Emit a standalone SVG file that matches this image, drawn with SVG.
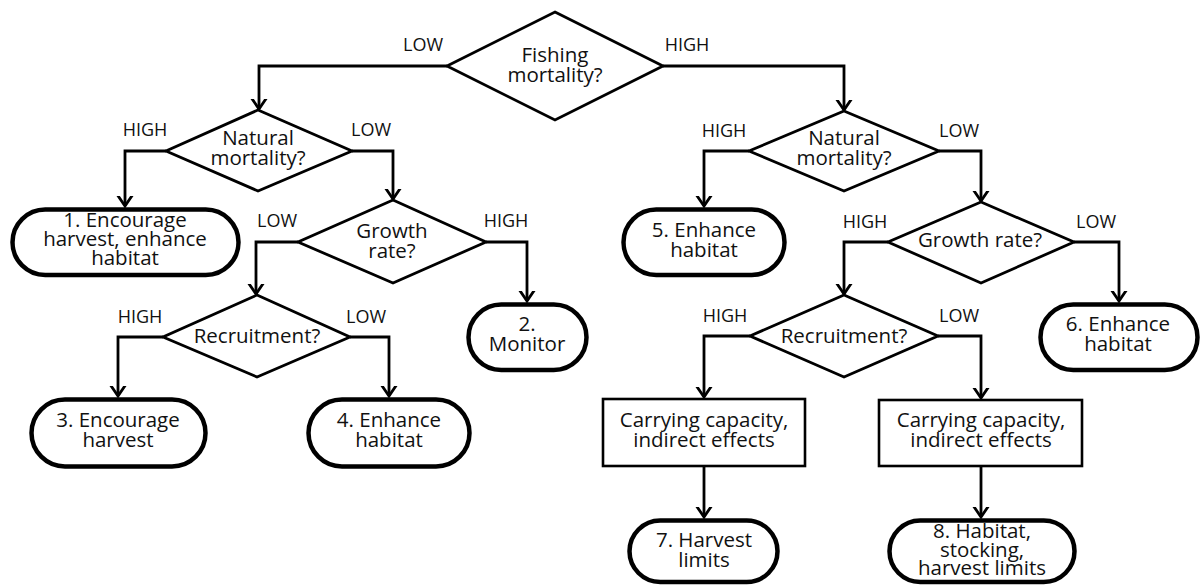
<svg xmlns="http://www.w3.org/2000/svg" width="1201" height="586" viewBox="0 0 1201 586">
<style>
text{font-family:"Open Sans","Noto Sans",sans-serif;fill:#111;text-anchor:middle}
.t{font-size:20.5px}
.l{font-size:18px}
.dia{fill:#fff;stroke:#000;stroke-width:2.8;stroke-linejoin:miter}
.term{fill:#fff;stroke:#000;stroke-width:4.5}
.box{fill:#fff;stroke:#000;stroke-width:2.6}
.c{fill:none;stroke:#000;stroke-width:2.8;marker-end:url(#ah)}
</style>
<defs>
<marker id="ah" markerUnits="userSpaceOnUse" viewBox="-10 -10 20 20" refX="0" refY="0" markerWidth="20" markerHeight="20" orient="auto">
<path d="M-11,-7.5 L0,0 L-11,7.5" fill="none" stroke="#000" stroke-width="2.8"/>
</marker>
</defs>
<rect width="1201" height="586" fill="#fff"/>
<g id="connectors">
<polyline class="c" points="447,66 259,66 259,109"/>
<polyline class="c" points="663,66 844,66 844,110"/>
<polyline class="c" points="166,151 125,151 125,206"/>
<polyline class="c" points="352,151 393,151 393,199"/>
<polyline class="c" points="298,242 256,242 256,294"/>
<polyline class="c" points="486,242 527,242 527,301"/>
<polyline class="c" points="163,337 118,337 118,396"/>
<polyline class="c" points="350,337 389,337 389,396"/>
<polyline class="c" points="749,151 704,151 704,206"/>
<polyline class="c" points="939,151 981,151 981,201"/>
<polyline class="c" points="888,242 844,242 844,294"/>
<polyline class="c" points="1074,242 1119,242 1119,301"/>
<polyline class="c" points="750,336 704,336 704,397"/>
<polyline class="c" points="938,336 981,336 981,398"/>
<polyline class="c" points="704,467 704,517"/>
<polyline class="c" points="981,467 981,517"/>
</g>
<g id="labels">
<text class="l" x="423" y="51">LOW</text>
<text class="l" x="687" y="51">HIGH</text>
<text class="l" x="145" y="136">HIGH</text>
<text class="l" x="371" y="136">LOW</text>
<text class="l" x="277" y="227">LOW</text>
<text class="l" x="506" y="227">HIGH</text>
<text class="l" x="140" y="323">HIGH</text>
<text class="l" x="366" y="323">LOW</text>
<text class="l" x="724" y="137">HIGH</text>
<text class="l" x="959" y="137">LOW</text>
<text class="l" x="865" y="228">HIGH</text>
<text class="l" x="1096" y="228">LOW</text>
<text class="l" x="725" y="322">HIGH</text>
<text class="l" x="959" y="322">LOW</text>
</g>
<g id="fishing">
<polygon class="dia" points="555,12 663,66 555,120 447,66"/>
<text class="t"><tspan x="555" y="62">Fishing</tspan><tspan x="555" y="82">mortality?</tspan></text>
</g>
<g id="natural-left">
<polygon class="dia" points="258,110 352,151 258,191 166,151"/>
<text class="t"><tspan x="258" y="145">Natural</tspan><tspan x="258" y="165">mortality?</tspan></text>
</g>
<g id="growth-left">
<polygon class="dia" points="393,200 486,242 393,283 298,242"/>
<text class="t"><tspan x="392" y="238">Growth</tspan><tspan x="392" y="258">rate?</tspan></text>
</g>
<g id="recruit-left">
<polygon class="dia" points="257,295 350,337 257,377 163,337"/>
<text class="t" x="257" y="343">Recruitment?</text>
</g>
<g id="t1">
<rect class="term" x="12.5" y="209.5" width="226" height="65.5" rx="32.75"/>
<text class="t"><tspan x="125" y="227">1. Encourage</tspan><tspan x="125" y="246">harvest, enhance</tspan><tspan x="125" y="265">habitat</tspan></text>
</g>
<g id="t2">
<rect class="term" x="468.5" y="304.5" width="118" height="65.5" rx="32.75"/>
<text class="t"><tspan x="527" y="331">2.</tspan><tspan x="527" y="351">Monitor</tspan></text>
</g>
<g id="t3">
<rect class="term" x="31.5" y="399.5" width="174" height="67" rx="33.5"/>
<text class="t"><tspan x="118" y="427">3. Encourage</tspan><tspan x="118" y="447">harvest</tspan></text>
</g>
<g id="t4">
<rect class="term" x="308.5" y="399.5" width="161" height="67" rx="33.5"/>
<text class="t"><tspan x="389" y="427">4. Enhance</tspan><tspan x="389" y="447">habitat</tspan></text>
</g>
<g id="natural-right">
<polygon class="dia" points="844,111 939,151 844,191 749,151"/>
<text class="t"><tspan x="844" y="145">Natural</tspan><tspan x="844" y="165">mortality?</tspan></text>
</g>
<g id="t5">
<rect class="term" x="623.5" y="209.5" width="161" height="65.5" rx="32.75"/>
<text class="t"><tspan x="704" y="237">5. Enhance</tspan><tspan x="704" y="257">habitat</tspan></text>
</g>
<g id="growth-right">
<polygon class="dia" points="981,202 1074,242 981,283 888,242"/>
<text class="t" x="980" y="247">Growth rate?</text>
</g>
<g id="t6">
<rect class="term" x="1040.5" y="304.5" width="157" height="65.5" rx="32.75"/>
<text class="t"><tspan x="1118" y="331">6. Enhance</tspan><tspan x="1118" y="351">habitat</tspan></text>
</g>
<g id="recruit-right">
<polygon class="dia" points="844,295 938,336 844,377 750,336"/>
<text class="t" x="844" y="343">Recruitment?</text>
</g>
<g id="r1">
<rect class="box" x="603" y="399" width="202" height="67"/>
<text class="t"><tspan x="704" y="427">Carrying capacity,</tspan><tspan x="704" y="447">indirect effects</tspan></text>
</g>
<g id="r2">
<rect class="box" x="879" y="400" width="203" height="66"/>
<text class="t"><tspan x="981" y="427">Carrying capacity,</tspan><tspan x="981" y="447">indirect effects</tspan></text>
</g>
<g id="t7">
<rect class="term" x="629.5" y="520.5" width="148" height="61.5" rx="30.75"/>
<text class="t"><tspan x="704" y="547">7. Harvest</tspan><tspan x="704" y="567">limits</tspan></text>
</g>
<g id="t8">
<rect class="term" x="889.5" y="520.5" width="185" height="61.5" rx="30.75"/>
<text class="t"><tspan x="982" y="538">8. Habitat,</tspan><tspan x="982" y="556.5">stocking,</tspan><tspan x="982" y="575">harvest limits</tspan></text>
</g>
</svg>
